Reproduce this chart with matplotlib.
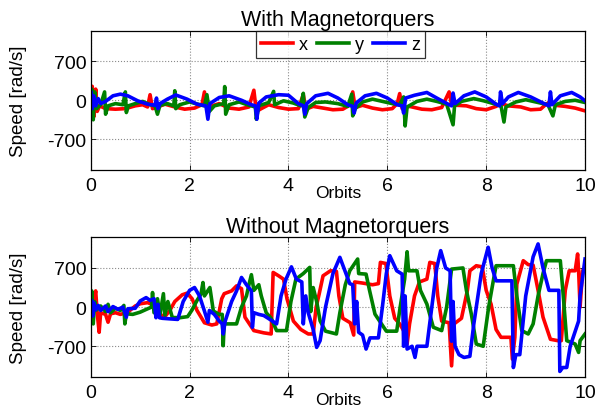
"""Reaction wheel speeds, with / without magnetorquers (MATLAB-style two-panel plot)."""
import matplotlib
matplotlib.use("Agg")
import matplotlib.pyplot as plt
import numpy as np

# (orbit, speed rad/s) points
with_x = [(0, 0), (0.03, 250), (0.06, -300), (0.1, 200), (0.13, -200), (0.18, -100), (0.3, -150),
          (0.5, -160), (0.7, -150), (0.9, -100), (1.05, -80), (1.15, -120), (1.2, 100), (1.25, -150),
          (1.35, -120), (1.5, -70), (1.7, -120), (1.9, -160), (2.1, -140), (2.25, -80), (2.3, 150),
          (2.35, -150), (2.45, -100), (2.6, -60), (2.8, -140), (3.0, -160), (3.2, -120), (3.3, 180),
          (3.35, -200), (3.45, -150), (3.6, -80), (3.8, -130), (4.0, -160), (4.2, -150), (4.3, 100),
          (4.35, -160), (4.5, -110), (4.7, -140), (4.9, -170), (5.1, -160), (5.25, -80), (5.3, 150),
          (5.35, -130), (5.5, -90), (5.7, -140), (5.9, -170), (6.1, -150), (6.2, -60), (6.25, 120),
          (6.3, -150), (6.45, -110), (6.7, -160), (6.9, -170), (7.1, -130), (7.25, 150), (7.3, -80),
          (7.4, -90), (7.6, -100), (7.8, -150), (8.0, -170), (8.2, -110), (8.3, -60), (8.45, -100),
          (8.7, -120), (8.9, -170), (9.1, -160), (9.2, -80), (9.3, -20), (9.4, -90), (9.6, -110),
          (9.8, -140), (10, -190)]
with_y = [(0, -100), (0.02, 200), (0.05, -350), (0.08, 150), (0.12, -150), (0.2, -80), (0.28, 150),
          (0.3, -250), (0.35, -100), (0.5, -60), (0.65, -80), (0.7, 150), (0.72, -220), (0.76, -100),
          (0.9, -60), (1.05, -20), (1.2, -80), (1.3, -100), (1.35, -250), (1.4, -90), (1.55, -60),
          (1.68, -100), (1.7, 170), (1.72, -150), (1.8, -80), (2.0, -30), (2.2, -80), (2.3, -100),
          (2.35, 100), (2.4, -200), (2.5, -100), (2.69, -60), (2.71, 245), (2.73, -250), (2.8, -80),
          (3.0, -30), (3.2, -90), (3.33, -120), (3.35, -340), (3.4, -100), (3.6, -40), (3.7, 160),
          (3.72, -80), (3.9, -10), (4.1, -50), (4.25, -100), (4.3, 125), (4.33, -300), (4.4, -130),
          (4.55, -40), (4.75, -30), (5.0, -60), (5.2, -110), (5.28, 110), (5.3, -280), (5.35, -150),
          (5.5, -30), (5.7, 20), (5.9, -20), (6.1, -60), (6.25, -80), (6.33, 60), (6.36, -460),
          (6.4, -120), (6.6, -20), (6.8, 20), (7.0, -20), (7.2, -70), (7.33, -440), (7.36, -100),
          (7.5, -20), (7.75, 30), (7.95, -10), (8.15, -60), (8.3, -100), (8.36, -390), (8.4, -120),
          (8.6, -30), (8.8, 10), (9.0, -30), (9.25, -80), (9.35, -280), (9.4, -80), (9.6, -20),
          (9.8, 0), (10, -40)]
with_z = [(0, 0), (0.01, 150), (0.03, -150), (0.06, 80), (0.1, -100), (0.15, 30), (0.2, -60),
          (0.3, -20), (0.45, 80), (0.6, 110), (0.75, 80), (0.95, -10), (1.15, -70), (1.3, -90),
          (1.33, 40), (1.36, -150), (1.4, -60), (1.55, 20), (1.72, 95), (1.95, 20), (2.15, -70),
          (2.33, -100), (2.37, -340), (2.41, -60), (2.6, 50), (2.8, 80), (3.05, 0), (3.25, -80),
          (3.33, -100), (3.36, -340), (3.4, -50), (3.55, 60), (3.8, 100), (4.0, 90), (4.2, -60),
          (4.3, -100), (4.33, -250), (4.37, -60), (4.55, 80), (4.8, 125), (5.0, 40), (5.2, -80),
          (5.3, -110), (5.33, -230), (5.37, -50), (5.55, 80), (5.78, 125), (6.0, 40), (6.2, -80),
          (6.3, -100), (6.33, -230), (6.37, 40), (6.55, 90), (6.8, 140), (7.0, 40), (7.23, -70),
          (7.3, -100), (7.33, 130), (7.37, -60), (7.55, 80), (7.77, 150), (8.0, 60), (8.2, -70),
          (8.27, -100), (8.29, 150), (8.33, -60), (8.45, 60), (8.65, 140), (8.9, 60), (9.15, -50),
          (9.27, -100), (9.3, 150), (9.33, -80), (9.5, 80), (9.73, 140), (9.9, 60), (10, -10)]

without_x = [(0, 0), (0.05, 50), (0.1, 290), (0.13, -100), (0.17, -450), (0.2, -100), (0.3, -130),
             (0.35, -270), (0.4, -120), (0.5, -100), (0.6, -130), (0.75, -90), (0.9, 20), (1.0, 60),
             (1.15, 80), (1.3, 30), (1.4, -130), (1.5, -170), (1.6, -60), (1.7, 100), (1.85, 220),
             (1.95, 250), (2.05, 150), (2.15, -60), (2.3, -280), (2.45, -320), (2.55, -300),
             (2.65, 150), (2.7, 240), (2.85, 290), (2.95, 380), (3.05, 330), (3.12, -180),
             (3.3, -420), (3.5, -460), (3.65, -480), (3.69, 620), (3.8, 560), (3.9, 500),
             (3.97, 150), (4.1, -250), (4.25, -400), (4.4, -480), (4.5, -480), (4.56, 0),
             (4.62, 230), (4.7, 560), (4.85, 650), (4.97, 640), (5.02, 200), (5.1, -200),
             (5.25, -280), (5.32, -500), (5.34, 450), (5.5, 430), (5.7, 400), (5.82, 420),
             (5.86, 800), (5.97, 780), (6.05, 200), (6.15, -200), (6.25, -300), (6.35, -450),
             (6.4, -660), (6.45, -300), (6.55, 200), (6.65, 450), (6.8, 500), (6.86, 800),
             (6.96, 780), (7.02, 200), (7.1, -250), (7.25, -280), (7.3, -1050), (7.35, -300),
             (7.5, -200), (7.62, 300), (7.67, 650), (7.8, 740), (7.92, 720), (8.0, 300), (8.1, 50),
             (8.2, -400), (8.3, -540), (8.5, -540), (8.53, -930), (8.58, -540), (8.62, 410),
             (8.75, 830), (8.85, 760), (8.95, 750), (9.05, 300), (9.15, -180), (9.3, -575),
             (9.45, -600), (9.52, -600), (9.6, 300), (9.68, 650), (9.8, 650), (9.85, 950),
             (9.87, 650), (9.9, 0), (9.95, 650), (10, 700)]
without_y = [(0, -100), (0.02, 290), (0.05, -300), (0.08, 100), (0.12, -50), (0.2, 20), (0.3, -80),
             (0.35, 50), (0.4, -100), (0.5, -20), (0.6, -60), (0.67, 30), (0.69, -300), (0.72, -120),
             (0.85, -130), (1.0, -90), (1.15, -30), (1.23, 0), (1.25, 260), (1.28, -100), (1.35, 150),
             (1.4, -140), (1.47, 240), (1.5, -145), (1.56, 100), (1.65, -185), (1.8, -190),
             (1.96, -170), (2.05, -50), (2.15, 120), (2.23, 233), (2.27, 440), (2.3, 200),
             (2.41, 350), (2.48, -70), (2.6, -130), (2.66, -130), (2.68, -690), (2.7, -300),
             (2.95, -300), (3.05, 0), (3.15, 200), (3.2, 400), (3.25, 580), (3.3, 300), (3.4, 400),
             (3.45, 200), (3.55, -100), (3.65, -200), (3.76, -420), (3.96, -420), (4.05, 100),
             (4.15, 500), (4.3, 600), (4.43, 710), (4.45, -80), (4.5, 350), (4.57, 100),
             (4.64, -245), (4.75, -430), (4.97, -480), (5.04, -100), (5.15, 400), (5.24, 650),
             (5.4, 860), (5.42, 600), (5.57, 590), (5.64, 300), (5.75, -125), (5.98, -430),
             (6.19, -430), (6.26, 0), (6.35, 500), (6.4, 990), (6.43, 650), (6.6, 650), (6.67, 300),
             (6.8, 55), (6.93, -360), (7.1, -420), (7.2, 0), (7.3, 680), (7.53, 700), (7.6, 300),
             (7.7, -125), (7.8, -660), (7.94, -700), (8.05, 0), (8.15, 500), (8.2, 740), (8.55, 740),
             (8.62, 200), (8.72, -420), (8.85, -480), (8.95, -300), (9.05, 200), (9.15, 600),
             (9.22, 830), (9.5, 830), (9.56, 200), (9.63, -600), (9.8, -660), (9.87, -810),
             (9.9, -600), (10, -480)]
without_z = [(0, 0), (0.02, 120), (0.04, -160), (0.06, 80), (0.1, -50), (0.15, 30), (0.2, -60),
             (0.3, 20), (0.35, -80), (0.45, 10), (0.55, -40), (0.65, 0), (0.72, -180), (0.75, -30),
             (0.9, -20), (1.0, 110), (1.12, 170), (1.2, 120), (1.28, 150), (1.32, -190), (1.36, 50),
             (1.39, -190), (1.45, -200), (1.6, -210), (1.76, -220), (1.87, 100), (2.0, 300),
             (2.1, 350), (2.2, 200), (2.3, -70), (2.37, -270), (2.4, -60), (2.5, -130), (2.6, -250),
             (2.66, -300), (2.68, -480), (2.72, -250), (2.85, 100), (2.95, 290), (3.05, 530),
             (3.15, 400), (3.25, 290), (3.27, -360), (3.3, -100), (3.4, -130), (3.5, -150),
             (3.59, -200), (3.76, -300), (3.85, 200), (3.95, 500), (4.06, 720), (4.16, 500),
             (4.27, 450), (4.3, -300), (4.35, 200), (4.4, -100), (4.5, -400), (4.57, -720),
             (4.64, -600), (4.75, 0), (4.9, 600), (5.04, 890), (5.24, 420), (5.3, 400), (5.34, -300),
             (5.38, 100), (5.42, -450), (5.5, -500), (5.57, -750), (5.65, -550), (5.82, -550),
             (5.9, 0), (5.98, 600), (6.05, 920), (6.19, 650), (6.3, 590), (6.33, -700), (6.36, 200),
             (6.4, -750), (6.5, -700), (6.56, -900), (6.6, -700), (6.8, -700), (6.9, 0), (7.0, 700),
             (7.08, 1010), (7.18, 700), (7.27, 650), (7.3, -610), (7.33, 100), (7.37, -700),
             (7.45, -850), (7.55, -900), (7.67, -880), (7.75, -300), (7.9, 600), (8.04, 1070),
             (8.12, 700), (8.2, 470), (8.52, 470), (8.55, -1080), (8.6, -850), (8.68, -850),
             (8.8, 200), (8.95, 900), (9.05, 1130), (9.15, 700), (9.27, 300), (9.47, 300),
             (9.49, -1150), (9.55, -1080), (9.63, -1080), (9.7, -700), (9.87, -250), (9.9, 200),
             (10, 860)]

titles = ['With Magnetorquers', 'Without Magnetorquers']
labels = ['x', 'y', 'z']
colors = ['#ff0000', '#008000', '#0000ff']
xticks = [0, 2, 4, 6, 8, 10]
yticks = [-700, 0, 700]

plt.rcParams.update({'font.family': 'Liberation Sans', 'axes.linewidth': 0.9,
                     'axes.unicode_minus': False})
fig = plt.figure(figsize=(6.05, 4.1), dpi=100)
axT = fig.add_axes([0.150, 0.583, 0.817, 0.340])
axB = fig.add_axes([0.150, 0.078, 0.817, 0.341])

for ax, series, title in [(axT, [with_x, with_y, with_z], titles[0]),
                          (axB, [without_x, without_y, without_z], titles[1])]:
    for pts, lab, c in zip(series, labels, colors):
        a = np.array(pts, dtype=float)
        ax.plot(a[:, 0], a[:, 1], color=c, lw=2.6, label=lab)
    ax.set_xlim(0, 10); ax.set_ylim(-1250, 1250)
    ax.set_xticks(xticks); ax.set_yticks(yticks)
    ax.tick_params(direction='in', top=True, right=True, length=3.5, width=0.6,
                   labelsize=14, pad=5)
    ax.tick_params(axis='y', pad=3)
    ax.grid(True, color='#8a8a8a', linestyle=':', linewidth=0.8)
    ax.set_title(title, fontsize=15.5, pad=4)
    ax.set_ylabel('Speed [rad/s]', fontsize=13.5, va='center')
    ax.yaxis.set_label_coords(-0.147, 0.5)
    ax.set_xlabel('Orbits', fontsize=12.5, va='center')
    ax.xaxis.set_label_coords(0.5, -0.163)

leg = axT.legend(loc='upper center', bbox_to_anchor=(0.505, 1.0), ncol=3, fontsize=13,
                 frameon=True, fancybox=False, borderaxespad=0, handlelength=1.8,
                 handletextpad=0.3, columnspacing=0.5, borderpad=0.3)
leg.get_frame().set_edgecolor('black'); leg.get_frame().set_linewidth(0.9)

fig.savefig('out.png', dpi=100)
